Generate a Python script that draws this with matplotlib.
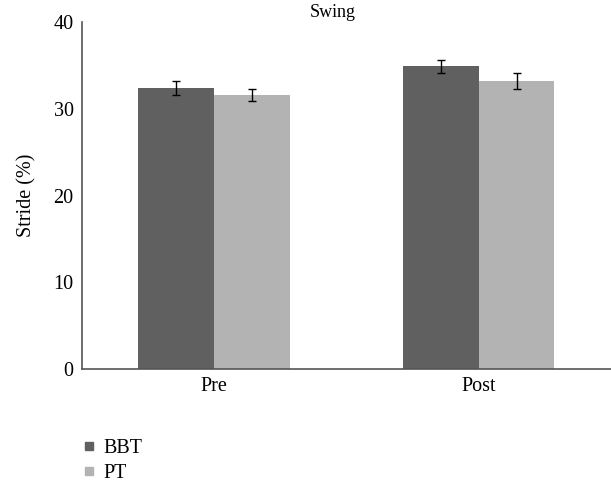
import matplotlib
matplotlib.use('Agg')
import matplotlib.pyplot as plt
import numpy as np
from matplotlib.lines import Line2D

plt.rcParams['font.family'] = ['Liberation Serif', 'DejaVu Serif']

groups = ['Pre', 'Post']
series = ['BBT', 'PT']
bbt = [32.4, 34.9]
pt = [31.6, 33.2]
bbt_err = [0.8, 0.7]
pt_err = [0.7, 0.9]
colors = ['#606060', '#b3b3b3']

fig = plt.figure(figsize=(6.11, 4.83), dpi=100)
ax = fig.add_axes([0.134, 0.236, 0.866, 0.718])

x = np.arange(len(groups))
w = 0.286
ax.bar(x - w / 2, bbt, w, color=colors[0], yerr=bbt_err, capsize=3,
       error_kw=dict(ecolor='black', elinewidth=1, capthick=1))
ax.bar(x + w / 2, pt, w, color=colors[1], yerr=pt_err, capsize=3,
       error_kw=dict(ecolor='black', elinewidth=1, capthick=1))

ax.set_xlim(-0.5, 1.5)
ax.set_ylim(0, 40)
ax.set_yticks([0, 10, 20, 30, 40])
ax.set_xticks(x)
ax.set_xticklabels(groups)
ax.tick_params(length=0, labelsize=14.5, pad=6)
for s in ['top', 'right']:
    ax.spines[s].set_visible(False)
for s in ['left', 'bottom']:
    ax.spines[s].set_color('#555555')
    ax.spines[s].set_linewidth(1.2)
ax.set_ylabel('Stride (%)', fontsize=14.5, labelpad=12)
fig.text(0.545, 0.975, 'Swing', ha='center', va='center', fontsize=13)

handles = [Line2D([], [], marker='s', ls='', color=c, markersize=6) for c in colors]
fig.legend(handles, series, loc='center left', bbox_to_anchor=(0.134, 0.046),
           frameon=False, fontsize=14.5, handletextpad=0.35, labelspacing=0.3,
           handlelength=0.7, borderpad=0, borderaxespad=0)

fig.savefig('out.png', dpi=100)
